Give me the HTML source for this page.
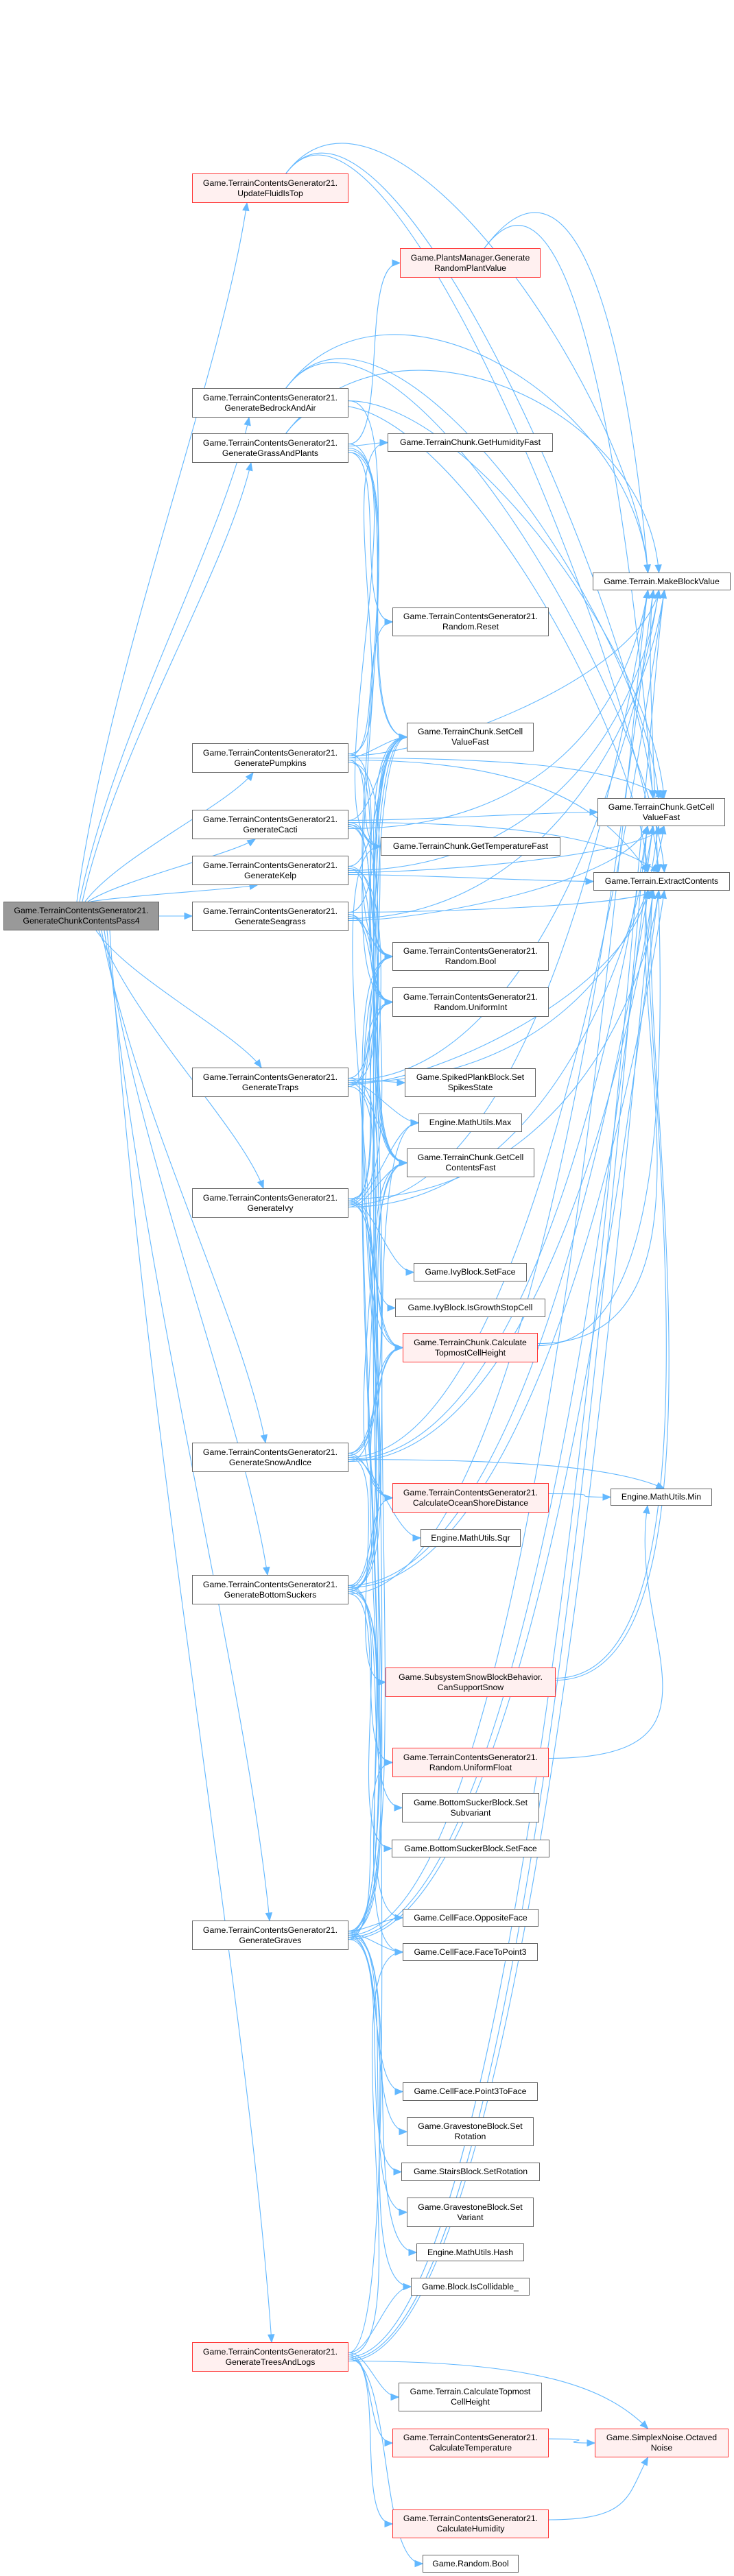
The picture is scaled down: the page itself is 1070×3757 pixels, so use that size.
<!DOCTYPE html>
<html><head><meta charset="utf-8"><style>
html,body{margin:0;padding:0;background:#fff;}
#wrap{position:relative;width:1070px;height:3757px;overflow:hidden;}
svg{position:absolute;left:0;top:0;}
.n{position:absolute;box-sizing:border-box;border:1.5px solid #666;background:#fff;display:flex;align-items:center;justify-content:center;text-align:center;font-family:"Liberation Sans",Arial,sans-serif;font-size:12.3px;line-height:15px;color:#000;white-space:nowrap;}
.r{border-color:#f33;background:#fff0f0;}
.m{background:#999;}
</style></head><body><div id="wrap">
<svg id="s" width="1070" height="3757" viewBox="0 0 1070 3757"></svg>
<div class="n m" style="left:5px;top:1315px;width:227px;height:42px">Game.TerrainContentsGenerator21.<br>GenerateChunkContentsPass4</div>
<div class="n r" style="left:280px;top:253px;width:228px;height:43px">Game.TerrainContentsGenerator21.<br>UpdateFluidIsTop</div>
<div class="n" style="left:280px;top:566px;width:228px;height:43px">Game.TerrainContentsGenerator21.<br>GenerateBedrockAndAir</div>
<div class="n" style="left:280px;top:632px;width:228px;height:43px">Game.TerrainContentsGenerator21.<br>GenerateGrassAndPlants</div>
<div class="n" style="left:280px;top:1084px;width:228px;height:43px">Game.TerrainContentsGenerator21.<br>GeneratePumpkins</div>
<div class="n" style="left:280px;top:1181px;width:228px;height:43px">Game.TerrainContentsGenerator21.<br>GenerateCacti</div>
<div class="n" style="left:280px;top:1248px;width:228px;height:43px">Game.TerrainContentsGenerator21.<br>GenerateKelp</div>
<div class="n" style="left:280px;top:1315px;width:228px;height:43px">Game.TerrainContentsGenerator21.<br>GenerateSeagrass</div>
<div class="n" style="left:280px;top:1557px;width:228px;height:43px">Game.TerrainContentsGenerator21.<br>GenerateTraps</div>
<div class="n" style="left:280px;top:1733px;width:228px;height:43px">Game.TerrainContentsGenerator21.<br>GenerateIvy</div>
<div class="n" style="left:280px;top:2104px;width:228px;height:43px">Game.TerrainContentsGenerator21.<br>GenerateSnowAndIce</div>
<div class="n" style="left:280px;top:2297px;width:228px;height:43px">Game.TerrainContentsGenerator21.<br>GenerateBottomSuckers</div>
<div class="n" style="left:280px;top:2801px;width:228px;height:43px">Game.TerrainContentsGenerator21.<br>GenerateGraves</div>
<div class="n r" style="left:280px;top:3416px;width:228px;height:43px">Game.TerrainContentsGenerator21.<br>GenerateTreesAndLogs</div>

<div class="n r" style="left:583px;top:362px;width:205px;height:43px">Game.PlantsManager.Generate<br>RandomPlantValue</div>
<div class="n" style="left:565px;top:632px;width:241px;height:27px">Game.TerrainChunk.GetHumidityFast</div>
<div class="n" style="left:572px;top:886px;width:228px;height:42px">Game.TerrainContentsGenerator21.<br>Random.Reset</div>
<div class="n" style="left:593px;top:1054px;width:185px;height:42px">Game.TerrainChunk.SetCell<br>ValueFast</div>
<div class="n" style="left:555px;top:1221px;width:262px;height:27px">Game.TerrainChunk.GetTemperatureFast</div>
<div class="n" style="left:572px;top:1374px;width:228px;height:42px">Game.TerrainContentsGenerator21.<br>Random.Bool</div>
<div class="n" style="left:572px;top:1440px;width:228px;height:43px">Game.TerrainContentsGenerator21.<br>Random.UniformInt</div>
<div class="n" style="left:590px;top:1558px;width:191px;height:42px">Game.SpikedPlankBlock.Set<br>SpikesState</div>
<div class="n" style="left:610px;top:1624px;width:151px;height:27px">Engine.MathUtils.Max</div>
<div class="n" style="left:593px;top:1675px;width:186px;height:42px">Game.TerrainChunk.GetCell<br>ContentsFast</div>
<div class="n" style="left:603px;top:1842px;width:165px;height:27px">Game.IvyBlock.SetFace</div>
<div class="n" style="left:576px;top:1894px;width:219px;height:27px">Game.IvyBlock.IsGrowthStopCell</div>
<div class="n r" style="left:587px;top:1944px;width:197px;height:43px">Game.TerrainChunk.Calculate<br>TopmostCellHeight</div>
<div class="n r" style="left:572px;top:2163px;width:228px;height:43px">Game.TerrainContentsGenerator21.<br>CalculateOceanShoreDistance</div>
<div class="n" style="left:613px;top:2230px;width:146px;height:26px">Engine.MathUtils.Sqr</div>
<div class="n r" style="left:562px;top:2432px;width:248px;height:43px">Game.SubsystemSnowBlockBehavior.<br>CanSupportSnow</div>
<div class="n r" style="left:572px;top:2549px;width:228px;height:43px">Game.TerrainContentsGenerator21.<br>Random.UniformFloat</div>
<div class="n" style="left:586px;top:2615px;width:200px;height:43px">Game.BottomSuckerBlock.Set<br>Subvariant</div>
<div class="n" style="left:571px;top:2683px;width:230px;height:26px">Game.BottomSuckerBlock.SetFace</div>
<div class="n" style="left:587px;top:2784px;width:198px;height:26px">Game.CellFace.OppositeFace</div>
<div class="n" style="left:587px;top:2834px;width:197px;height:26px">Game.CellFace.FaceToPoint3</div>
<div class="n" style="left:587px;top:3037px;width:197px;height:27px">Game.CellFace.Point3ToFace</div>
<div class="n" style="left:593px;top:3088px;width:185px;height:42px">Game.GravestoneBlock.Set<br>Rotation</div>
<div class="n" style="left:585px;top:3154px;width:202px;height:27px">Game.StairsBlock.SetRotation</div>
<div class="n" style="left:593px;top:3205px;width:185px;height:43px">Game.GravestoneBlock.Set<br>Variant</div>
<div class="n" style="left:607px;top:3272px;width:157px;height:26px">Engine.MathUtils.Hash</div>
<div class="n" style="left:599px;top:3322px;width:173px;height:26px">Game.Block.IsCollidable_</div>
<div class="n" style="left:581px;top:3475px;width:209px;height:42px">Game.Terrain.CalculateTopmost<br>CellHeight</div>
<div class="n r" style="left:572px;top:3542px;width:228px;height:42px">Game.TerrainContentsGenerator21.<br>CalculateTemperature</div>
<div class="n r" style="left:572px;top:3660px;width:228px;height:42px">Game.TerrainContentsGenerator21.<br>CalculateHumidity</div>
<div class="n" style="left:616px;top:3726px;width:140px;height:26px">Game.Random.Bool</div>

<div class="n" style="left:864px;top:835px;width:201px;height:26px">Game.Terrain.MakeBlockValue</div>
<div class="n" style="left:871px;top:1164px;width:186px;height:41px">Game.TerrainChunk.GetCell<br>ValueFast</div>
<div class="n" style="left:865px;top:1272px;width:199px;height:27px">Game.Terrain.ExtractContents</div>
<div class="n" style="left:890px;top:2171px;width:148px;height:25px">Engine.MathUtils.Min</div>
<div class="n r" style="left:867px;top:3542px;width:195px;height:42px">Game.SimplexNoise.Octaved<br>Noise</div>
</div>
<script>
var N={main:[5,1315,227,42],U:[280,253,228,43],BA:[280,566,228,43],GP:[280,632,228,43],PU:[280,1084,228,43],CA:[280,1181,228,43],KE:[280,1248,228,43],SE:[280,1315,228,43],TR:[280,1557,228,43],IV:[280,1733,228,43],SI:[280,2104,228,43],BS:[280,2297,228,43],GR:[280,2801,228,43],TL:[280,3416,228,43],
PM:[583,362,205,43],GH:[565,632,241,27],RR:[572,886,228,42],SC:[593,1054,185,42],GT:[555,1221,262,27],RB:[572,1374,228,42],RU:[572,1440,228,43],SP:[590,1558,191,42],MX:[610,1624,151,27],GC:[593,1675,186,42],IF:[603,1842,165,27],IG:[576,1894,219,27],CT:[587,1944,197,43],OS:[572,2163,228,43],SQ:[613,2230,146,26],SS:[562,2432,248,43],UF:[572,2549,228,43],BV:[586,2615,200,43],BF:[571,2683,230,26],OF:[587,2784,198,26],FP:[587,2834,197,26],PF:[587,3037,197,27],GRt:[593,3088,185,42],SR:[585,3154,202,27],GV:[593,3205,185,43],HS:[607,3272,157,26],IC:[599,3322,173,26],TT:[581,3475,209,42],CTm:[572,3542,228,42],CH:[572,3660,228,42],RBo:[616,3726,140,26],
MB:[864,835,201,26],GCV:[871,1164,186,41],EC:[865,1272,199,27],MN:[890,2171,148,25],ON:[867,3542,195,42]};
var col4={MB:1,GCV:1,EC:1,MN:1,ON:1};
var E={U:"MB GCV EC",BA:"MB SC GCV EC",GP:"PM GH GT RB RU SC MB GCV EC RR",PU:"GH RR SC GT RB RU MB GCV EC GC",CA:"SC GT RB RU MB GCV EC GC",KE:"SC RU MB GCV EC GC CT",SE:"SC RU RB MB GCV EC GC",
TR:"SP MX GC SC RB RU MB GCV EC CT OS",IV:"IF IG CT MX GC SC RB RU MB GCV EC OS",SI:"OS SQ SS MN SC GC GT MB GCV EC CT",BS:"BV BF OF FP UF OS SC RU RB MB GCV EC GC CT",
GR:"OF FP PF GRt SR GV HS IC UF SC RU RB MB GCV EC GC CT MX",TL:"TT CTm CH RBo ON IC FP MB GCV EC SC",PM:"MB GCV",OS:"MN",CTm:"ON",CH:"ON",CT:"EC MB",SS:"GCV EC",UF:"MN"};
var out=[],C="#63b8ff";
function arrow(px,py,ex,ey){var dx=ex-px,dy=ey-py,l=Math.hypot(dx,dy)||1;dx/=l;dy/=l;var bx=ex-dx*11,by=ey-dy*11;
out.push('<polygon points="'+ex+','+ey+' '+(bx-dy*4.5)+','+(by+dx*4.5)+' '+(bx+dy*4.5)+','+(by-dx*4.5)+'" fill="'+C+'" stroke="'+C+'"/>');}
function path(s,c1,c2,e){out.push('<path d="M'+s+' C'+c1+' '+c2+' '+e+'" fill="none" stroke="'+C+'" stroke-width="1.1"/>');arrow(c2[0],c2[1],e[0],e[1]);}
["U","BA","GP","PU","CA","KE","SE","TR","IV","SI","BS","GR","TL"].forEach(function(k,i){var B=N[k],cy=B[1]+B[3]/2;
if(k=="SE"){path([232,1336],[250,1336],[262,1336],[280,1336]);return;}
var up=cy<1336,sx=112+i*4,sy=up?1315:1357,ex=360+i*3,ey=up?B[1]+B[3]:B[1];
path([sx,sy],[sx+(ex-sx)*0.2,sy+(ey-sy)*0.35],[ex-(ex-sx)*0.15,ey-(ey-sy)*0.25],[ex,ey]);});
for(var a in E){if(!E[a])continue;var A=N[a],list=E[a].split(" ");list.forEach(function(b,j){var B=N[b];if(!B)return;
var sx=A[0]+A[2],sy=A[1]+A[3]/2+(j%5-2)*3,ex,ey,c1,c2;
if(col4[b]){var bc=B[1]+B[3]/2;ex=B[0]+B[2]/2-20+(j%4)*8;
var off=Math.min(200,Math.abs(bc-sy)/2);
if(Math.abs(bc-sy)<30){ex=B[0];ey=bc;c1=[sx+100,sy];c2=[ex-80,ey];}
else if(B[1]>sy){ey=B[1];c1=[sx+280,sy];c2=[ex-60,ey-off];}
else{ey=B[1]+B[3];c1=[sx+(off<150?120:280),sy];c2=[ex-30,ey+off];}
if(a=="U"||a=="BA"||a=="GP"||a=="PM"){sx=A[0]+A[2]*0.6;sy=A[1];c1=[sx+150,sy-200];c2=[ex-20,ey-250];}
}else{ex=B[0];ey=B[1]+B[3]/2;var d=Math.abs(ey-sy);c1=[sx+Math.min(120,20+d*0.15),sy];c2=[ex-Math.min(120,20+d*0.15),ey];}
path([sx,sy],c1,c2,[ex,ey]);});}
document.getElementById("s").innerHTML=out.join("");
</script>
</body></html>
